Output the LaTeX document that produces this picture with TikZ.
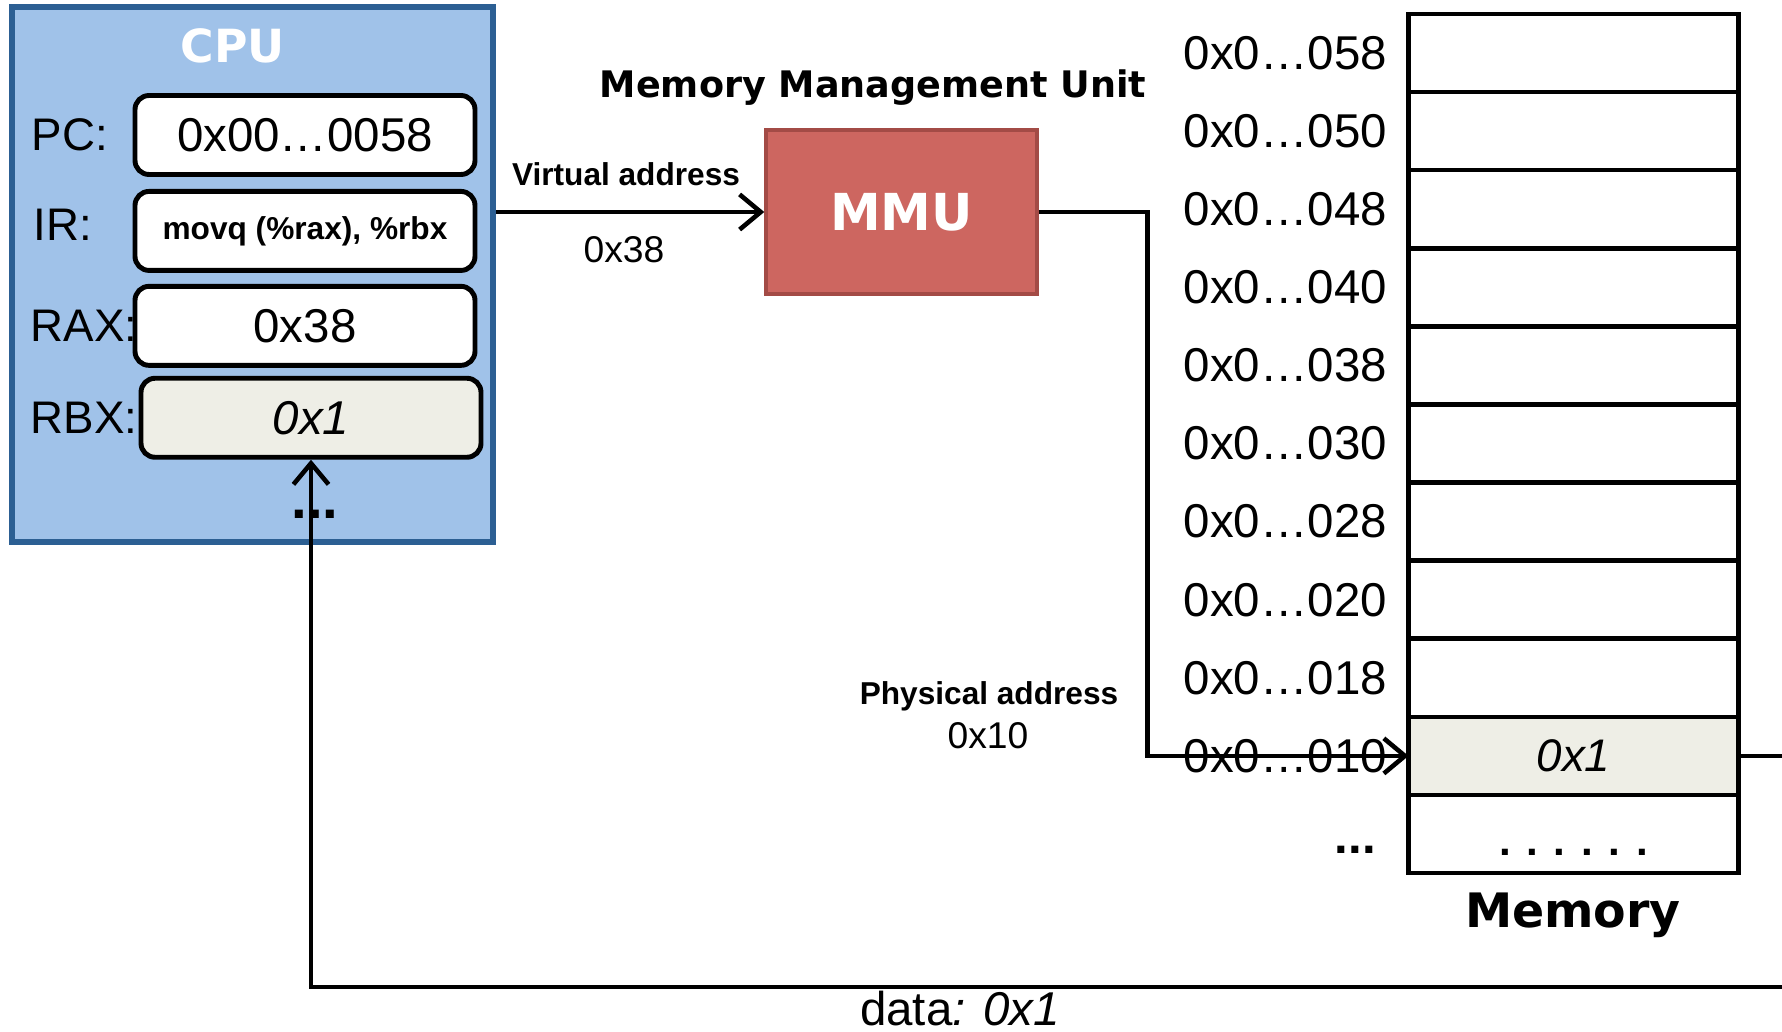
\documentclass[tikz,border=0pt]{standalone}
\usepackage{fontspec}
\setmainfont{Liberation Sans}
\newfontfamily\verdfont{DejaVu Sans}
\usetikzlibrary{positioning,arrows.meta}

\definecolor{cpufill}{HTML}{A0C2E9}
\definecolor{cpuedge}{HTML}{2C5F93}
\definecolor{mmufill}{HTML}{CD6660}
\definecolor{mmuedge}{HTML}{A34B46}
\definecolor{valfill}{HTML}{EEEEE6}

\begin{document}
\begin{tikzpicture}[
  cpubox/.style={draw=cpuedge, fill=cpufill, line width=1.8pt, minimum width=4.81cm, minimum height=5.35cm},
  reg/.style={draw, line width=1.4pt, rounded corners=4pt, fill=white, minimum width=3.4cm, minimum height=0.79cm, font=\fontsize{13.5}{16}\selectfont},
  reglabel/.style={inner sep=0pt, font=\fontsize{13}{15}\selectfont},
  mmubox/.style={draw=mmuedge, fill=mmufill, line width=1pt, minimum width=2.71cm, minimum height=1.64cm, text=white, font=\verdfont\bfseries\fontsize{14.5}{17}\selectfont},
  title/.style={font=\verdfont\bfseries\fontsize{10.4}{12}\selectfont},
  cell/.style={draw, line width=1.3pt, fill=white, outer sep=0pt, minimum width=3.3cm, minimum height=0.781cm, font=\fontsize{13}{15}\selectfont},
  addr/.style={inner sep=0pt, font=\fontsize{13.5}{16}\selectfont},
  note/.style={font=\bfseries\fontsize{9}{11}\selectfont},
  val/.style={font=\fontsize{10.6}{12}\selectfont},
  dotty/.style={inner sep=0pt, font=\bfseries\fontsize{13}{15}\selectfont},
  conn/.style={line width=1.3pt, -{Straight Barb[length=6pt,width=10pt]}}
]
\useasboundingbox (0,0) rectangle (17.82,-10.31);
\clip (0,0) rectangle (17.82,-10.31);

% CPU and registers
\node[cpubox] (cpu) at (2.525,-2.745) {};
\node[title, text=white, font=\verdfont\bfseries\fontsize{13}{15}\selectfont] (cpulabel) at (2.33,-0.46) {CPU};
\node[reg] (pc) at (3.05,-1.35) {0x00…0058};
\node[reg, font=\bfseries\fontsize{9}{11}\selectfont] (ir) [below=0.12cm of pc] {movq (\%rax), \%rbx};
\node[reg] (rax) [below=0.11cm of ir] {0x38};
\node[reg, fill=valfill, font=\itshape\fontsize{13.5}{16}\selectfont] (rbx) [below=0.08cm of rax, xshift=0.06cm] {0x1};

\node[reglabel] (pclabel) at (cpu.west |- pc) [right=0.22cm] {PC:};
\node[reglabel] (irlabel) at (cpu.west |- ir) [right=0.24cm, yshift=0.06cm] {IR:};
\node[reglabel] (raxlabel) at (cpu.west |- rax) [right=0.21cm] {RAX:};
\node[reglabel] (rbxlabel) at (cpu.west |- rbx) [right=0.21cm] {RBX:};
\node[dotty, font=\bfseries\fontsize{16}{18}\selectfont] (cpudots) at (3.15,-5.14) {...};

% MMU
\node[mmubox] (mmu) at (9.015,-2.12) {MMU};
\node[title] (mmutitle) at (8.73,-0.88) {Memory Management Unit};
\node[note] (virt) at (6.26,-1.74) {Virtual address};
\node[val] (virtval) at (6.24,-2.50) {0x38};

% memory cells
\node[cell] (m1) at (15.735,-0.53) {};
\node[cell] (m2) [below=0pt of m1] {};
\node[cell] (m3) [below=0pt of m2] {};
\node[cell] (m4) [below=0pt of m3] {};
\node[cell] (m5) [below=0pt of m4] {};
\node[cell] (m6) [below=0pt of m5] {};
\node[cell] (m7) [below=0pt of m6] {};
\node[cell] (m8) [below=0pt of m7] {};
\node[cell] (m9) [below=0pt of m8] {};
\node[cell, fill=valfill, font=\itshape\fontsize{13}{15}\selectfont] (m10) [below=0pt of m9] {0x1};
\node[cell] (m11) [below=0pt of m10] {};
\node[dotty, font=\bfseries\fontsize{12}{14}\selectfont] (m11dots) at (m11.center) [yshift=-0.18cm] {. . . . . .};
\node[title, font=\verdfont\bfseries\fontsize{13.5}{16}\selectfont] (memtitle) at (15.73,-9.15) {Memory};

\node[addr] (a58) at (m1.west) [left=0.21cm] {0x0…058};
\node[addr] (a50) at (m2.west) [left=0.21cm] {0x0…050};
\node[addr] (a48) at (m3.west) [left=0.21cm] {0x0…048};
\node[addr] (a40) at (m4.west) [left=0.21cm] {0x0…040};
\node[addr] (a38) at (m5.west) [left=0.21cm] {0x0…038};
\node[addr] (a30) at (m6.west) [left=0.21cm] {0x0…030};
\node[addr] (a28) at (m7.west) [left=0.21cm] {0x0…028};
\node[addr] (a20) at (m8.west) [left=0.21cm] {0x0…020};
\node[addr] (a18) at (m9.west) [left=0.21cm] {0x0…018};
\node[addr] (a10) at (m10.west) [left=0.21cm] {0x0…010};
\node[dotty, font=\bfseries\fontsize{14}{16}\selectfont] (adots) at (m11.west) [left=0.32cm, yshift=-0.16cm] {...};

% address and data paths
\draw[conn] (cpu.east |- mmu) -- (mmu.west);
\draw[conn] (mmu.east) -- ++(1.09,0) |- (m10.west);
\node[note] (phys) at (9.89,-6.96) {Physical address};
\node[val] (physval) at (9.88,-7.36) {0x10};

\coordinate (ret) at (18.2,-9.87);
\draw[conn] (m10.east) -| (ret) -| (rbx.south);
\node[font=\fontsize{13.5}{16}\selectfont] (data) at (9.60,-10.09) {data\textit{: 0x1}};
\end{tikzpicture}
\end{document}
